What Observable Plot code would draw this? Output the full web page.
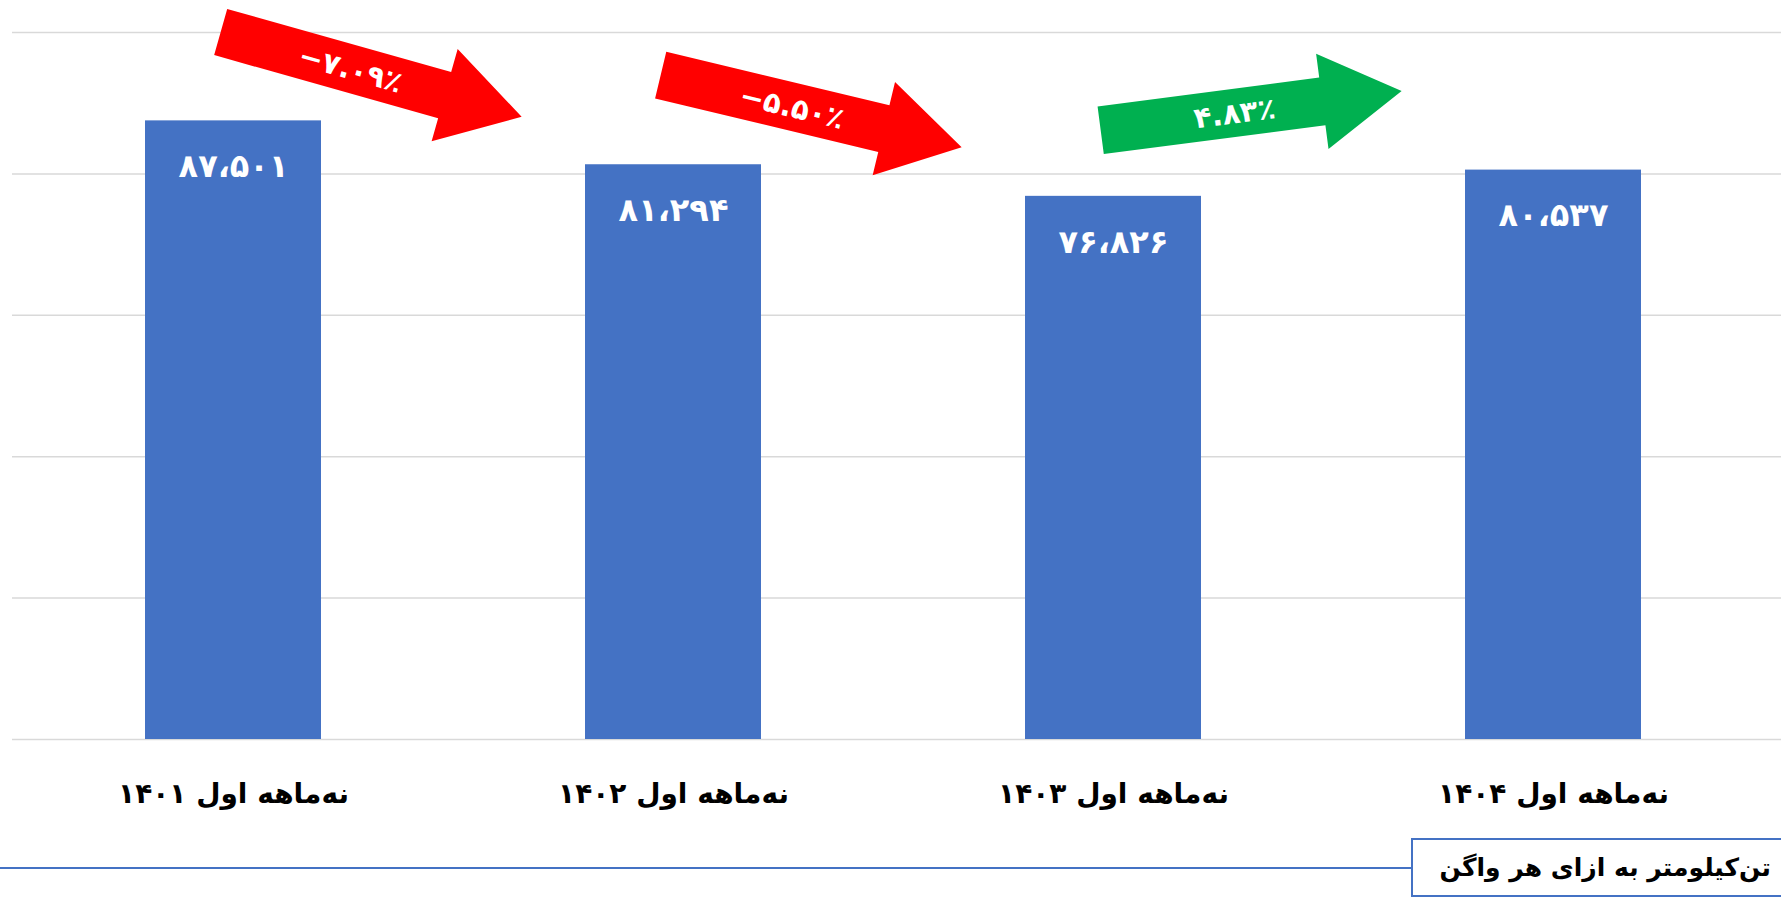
<!DOCTYPE html>
<html>
<head>
<meta charset="utf-8">
<script src="https://cdn.jsdelivr.net/npm/d3@7"></script>
<script src="https://cdn.jsdelivr.net/npm/@observablehq/plot@0.6"></script>
<style>
  html, body { margin: 0; padding: 0; background: #fff; overflow: hidden; }
  body { width: 1781px; height: 901px; font-family: "DejaVu Sans", sans-serif; }
  g[aria-label="values"] text { filter: drop-shadow(2px 2px 1.5px rgba(0,0,0,0.55)); }
  #caption { position: relative; width: 1781px; height: 66px; }
  #caption .line { position: absolute; left: 0; top: 32px; width: 1412px; height: 2px; background: #4472C4; }
  #caption .box { position: absolute; left: 1411px; top: 3px; width: 420px; height: 59px; border: 2px solid #4472C4;
    box-sizing: border-box; direction: rtl; text-align: right; padding-right: 58px;
    font-family: "DejaVu Sans", sans-serif; font-weight: bold; font-size: 25px; line-height: 55px; color: #000; white-space: nowrap; }
</style>
</head>
<body>
<script>
// ---- data ----
const categories = ["نه‌ماهه اول ۱۴۰۱", "نه‌ماهه اول ۱۴۰۲", "نه‌ماهه اول ۱۴۰۳", "نه‌ماهه اول ۱۴۰۴"];
const values = [87501, 81294, 76826, 80537];
const yTicks = [0, 20000, 40000, 60000, 80000, 100000];
const arrowFrom = [0, 1, 2];
const arrowLabels = ["−۷.۰۹٪", "−۵.۵۰٪", "۴.۸۳٪"];
const arrowStartY = [100000, 93900, 86100];
const arrowEndY = [88000, 83700, 91650];
const unitLabel = "تن‌کیلومتر به ازای هر واگن";

const faDigits = "۰۱۲۳۴۵۶۷۸۹";
const toFa = (s) => String(s).replace(/\d/g, (d) => faDigits[+d]);
const fmt = (v) => toFa(d3.format(",")(v)).replace(/,/g, "،");

const data = categories.map((c, i) => ({cat: c, value: values[i], label: fmt(values[i])}));

function arrowsMark(index, scales) {
  const {x, y} = scales;
  const bw = x.bandwidth();
  const g = d3.create("svg:g").attr("aria-label", "arrows");
  arrowLabels.forEach((label, i) => {
    const x0 = x(categories[arrowFrom[i]]) + bw * 0.43;
    const x1 = x(categories[arrowFrom[i] + 1]) - bw * 0.36;
    const y0 = y(arrowStartY[i]);
    const y1 = y(arrowEndY[i]);
    const L = Math.hypot(x1 - x0, y1 - y0);
    const ang = Math.atan2(y1 - y0, x1 - x0) * 180 / Math.PI;
    const hl = 80, sw = 24, hw = 48;
    const pts = [[0, -sw], [L - hl, -sw], [L - hl, -hw], [L, 0], [L - hl, hw], [L - hl, sw], [0, sw]];
    const color = label.startsWith("−") ? "#FF0000" : "#00B050";
    const a = g.append("g").attr("transform", `translate(${x0},${y0}) rotate(${ang})`);
    a.append("polygon").attr("points", pts.map(p => p.join(",")).join(" ")).attr("fill", color);
    a.append("text")
      .attr("x", 135).attr("y", 0).attr("dy", "0.36em")
      .attr("text-anchor", "middle")
      .attr("fill", "white")
      .attr("font-weight", "bold")
      .attr("font-size", 29)
      .attr("font-family", "DejaVu Sans, sans-serif")
      .attr("direction", "ltr")
      .text(label);
  });
  return g.node();
}

const chart = Plot.plot({
  width: 1781,
  height: 835,
  marginLeft: 12,
  marginRight: 7,
  marginTop: 32,
  marginBottom: 96,
  style: {fontFamily: "DejaVu Sans, sans-serif", background: "white"},
  x: {domain: categories, paddingInner: 0.6, paddingOuter: 0.3, label: null},
  y: {domain: [0, 100000], axis: null},
  marks: [
    Plot.ruleY(yTicks, {stroke: "#d9d9d9", strokeWidth: 1.5, insetRight: -7}),
    Plot.barY(data, {x: "cat", y: "value", fill: "#4472C4"}),
    Plot.text(data, {x: "cat", y: "value", dy: 46, text: "label", fill: "white", fontSize: 32, fontWeight: "bold", ariaLabel: "values"}),
    Plot.axisX({tickSize: 0, tickPadding: 44, fontSize: 28, fontWeight: "bold", fill: "black", label: null}),
    arrowsMark
  ]
});
document.body.appendChild(chart);

const cap = document.createElement("div");
cap.id = "caption";
cap.innerHTML = `<div class="line"></div><div class="box"></div>`;
cap.querySelector(".box").textContent = unitLabel;
document.body.appendChild(cap);
</script>
</body>
</html>
